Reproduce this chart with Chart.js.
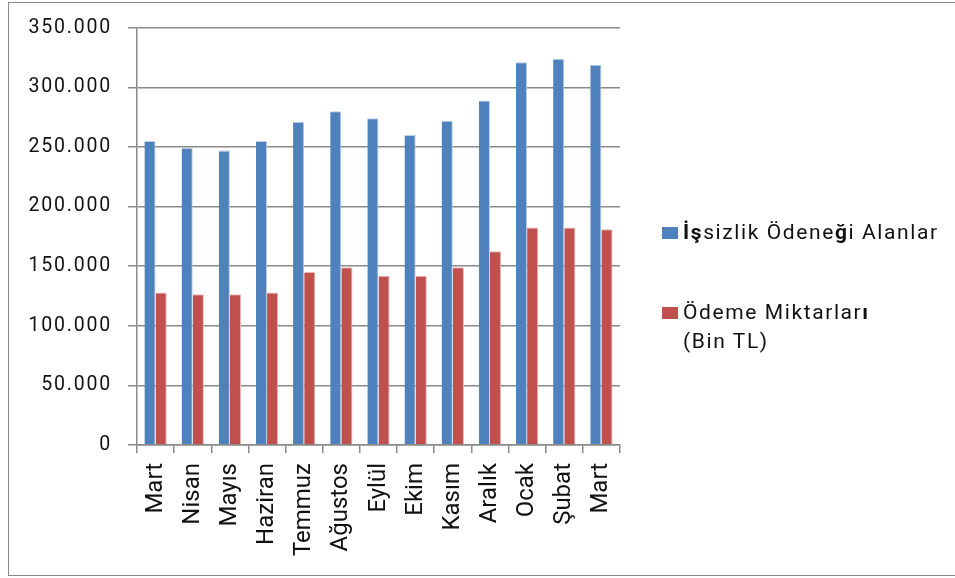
<!DOCTYPE html>
<html lang="tr">
<head>
<meta charset="utf-8">
<script src="https://cdn.jsdelivr.net/npm/chart.js@4"></script>
<style>
  html, body { margin: 0; padding: 0; background: #fff; }
  body { width: 955px; height: 578px; position: relative; overflow: hidden; font-family: Roboto, "Noto Sans", sans-serif; }
  #frame { position: absolute; left: 8px; top: 2px; width: 960px; height: 574px; border: 1.5px solid #8a8a8a; box-sizing: border-box; }
  #wrap { position: absolute; left: 0; top: 0; width: 955px; height: 578px; }
  .legend { position: absolute; left: 662px; font-size: 21px; color: #111; line-height: 29px; letter-spacing: 1.6px; }
  .legend .box { position: absolute; left: 0; width: 16px; height: 12px; }
  .legend .txt { position: absolute; left: 21px; top: 0; white-space: nowrap; }
</style>
</head>
<body>
<div id="frame"></div>
<div id="wrap"><canvas id="chart"></canvas></div>
<div class="legend" style="top:218px"><div class="box" style="background:#4f81bd;top:9px"></div><div class="txt"><b>İş</b>sizlik Ödene<b>ğ</b>i Alanlar</div></div>
<div class="legend" style="top:298px"><div class="box" style="background:#c0504d;top:9px"></div><div class="txt">Ödeme Miktarlar<b>ı</b><br>(Bin TL)</div></div>
<script>
// aylar
const months = ['Mart', 'Nisan', 'Mayıs', 'Haziran', 'Temmuz', 'Ağustos', 'Eylül', 'Ekim', 'Kasım', 'Aralık', 'Ocak', 'Şubat', 'Mart'];
// İşsizlik ödeneği alanlar (kişi)
const recipients = [255000, 249000, 247000, 255000, 271000, 280000, 274000, 260000, 272000, 289000, 321000, 324000, 319000];
// Ödeme miktarları (bin TL)
const payments = [128000, 126500, 126500, 128000, 145000, 149000, 142000, 142000, 149000, 162500, 182500, 182500, 181000];

const GRID = '#8a8a8a';

function fmt(v) {
  return String(v).replace(/\B(?=(\d{3})+(?!\d))/g, '.');
}

// y ekseni yazıları referansta biraz daha geniş
const spacedLabels = {
  id: 'spacedLabels',
  afterLayout(chart) {
    const y = chart.scales.y;
    if (y._spaced) return;
    const orig = y.drawLabels;
    y.drawLabels = function (area) {
      const ctx = this.ctx;
      ctx.save();
      ctx.letterSpacing = '1.8px';
      orig.call(this, area);
      ctx.restore();
    };
    y._spaced = true;
  }
};

new Chart(document.getElementById('chart'), {
  type: 'bar',
  data: {
    labels: months,
    datasets: [
      { label: 'İşsizlik Ödeneği Alanlar', data: recipients, backgroundColor: '#4f81bd', borderColor: '#b9cde5', borderWidth: { right: 1, top: 1 } },
      { label: 'Ödeme Miktarları (Bin TL)', data: payments, backgroundColor: '#c0504d', borderColor: '#e6b9b8', borderWidth: { right: 1, top: 1 } }
    ]
  },
  plugins: [spacedLabels],
  options: {
    responsive: true,
    maintainAspectRatio: false,
    animation: false,
    layout: { padding: { top: 20, right: 335, left: 0, bottom: 0 } },
    datasets: { bar: { categoryPercentage: 0.6, barPercentage: 1.0 } },
    plugins: { legend: { display: false }, tooltip: { enabled: false } },
    scales: {
      x: {
        grid: { offset: true, drawOnChartArea: false, drawTicks: true, tickLength: 8, color: GRID, lineWidth: 1.5 },
        border: { color: GRID, width: 1.5 },
        ticks: { maxRotation: 90, minRotation: 90, color: '#111', font: { family: 'Roboto', size: 24 }, padding: 10 },
        afterFit: s => { s.height = 133; }
      },
      y: {
        min: 0,
        max: 350000,
        grid: { color: GRID, lineWidth: 1.5, tickLength: 9 },
        border: { color: GRID, width: 1.5 },
        ticks: { stepSize: 50000, color: '#111', font: { family: 'Roboto', size: 19.5 }, padding: 16, callback: v => fmt(v) },
        afterFit: s => { s.width = 137; }
      }
    }
  }
});
</script>
</body>
</html>
